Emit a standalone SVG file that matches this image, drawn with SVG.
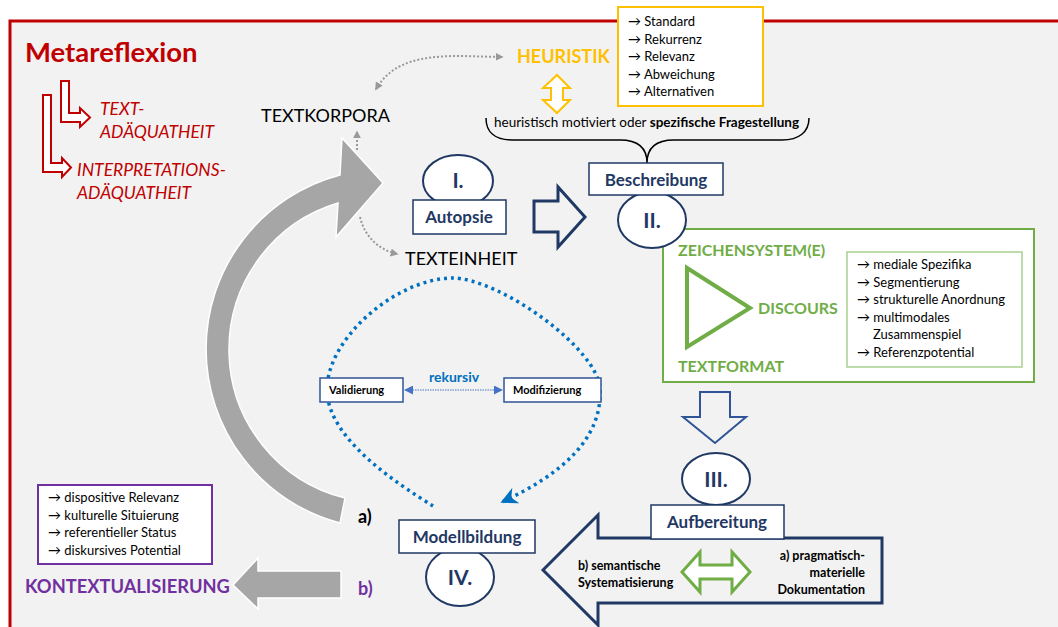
<svg xmlns="http://www.w3.org/2000/svg" width="1058" height="627" viewBox="0 0 1058 627">
<style>
text{font-family:Lato,"Open Sans","Liberation Sans",sans-serif}
.b{font-weight:bold}
.navy{fill:#1f3864}
.nbox{fill:#fff;stroke:#1f3864;stroke-width:1.5}
.ell{fill:#fff;stroke:#1f3864;stroke-width:2}
.num{font-size:21px;font-weight:bold;fill:#1f3864;text-anchor:middle}
.lbl{font-size:17px;font-weight:bold;fill:#1f3864;text-anchor:middle}
.red{fill:#c00000;font-style:italic;font-size:17.5px}
.lst{font-size:13px;fill:#000}
.grn{fill:#70ad47;font-weight:bold;font-size:16px}
.gdot{fill:none;stroke:#999;stroke-width:2;stroke-dasharray:2 2}
.gray{fill:#a6a6a6;stroke:#fff;stroke-width:1.5}
</style>
<defs>
<marker id="ag" viewBox="0 0 10 10" refX="8" refY="5" markerWidth="4" markerHeight="4" orient="auto-start-reverse"><path d="M0,0 L10,5 L0,10 z" fill="#999"/></marker>
<marker id="ab" viewBox="0 0 10 10" refX="9" refY="5" markerUnits="userSpaceOnUse" markerWidth="17" markerHeight="17" orient="auto"><path d="M0,0 L10,5 L0,10 L3,5 z" fill="#0070c0"/></marker>
<marker id="ar" viewBox="0 0 10 10" refX="9" refY="5" markerUnits="userSpaceOnUse" markerWidth="9" markerHeight="9" orient="auto-start-reverse"><path d="M0,0 L10,5 L0,10 z" fill="#4472c4"/></marker>
</defs>
<rect x="0" y="0" width="1058" height="627" fill="#fff"/>
<rect x="10" y="21" width="1060" height="620" fill="#f2f2f2" stroke="#c00000" stroke-width="3"/>

<g id="metareflexion">
<text x="25" y="62" class="b" font-size="27.5" fill="#c00000">Metareflexion</text>
<polygon points="61,81 69,81 69,113 80,113 80,108 90,117.5 80,127 80,122 61,122" fill="#fff" stroke="#c00000" stroke-width="2"/>
<polygon points="43,95 51,95 51,163 62,163 62,158 71,167.5 62,177 62,172 43,172" fill="#fff" stroke="#c00000" stroke-width="2"/>
<text x="100" y="115" class="red">TEXT-</text>
<text x="100" y="138" class="red">ADÄQUATHEIT</text>
<text x="77" y="176" class="red">INTERPRETATIONS-</text>
<text x="77" y="199" class="red">ADÄQUATHEIT</text>
</g>

<g id="zyklus">
<path class="gray" d="M342,138 L383,183 L336,237 L338,203 A153,153 0 0 0 345,498 L340,523 A180,180 0 0 1 340,175 Z"/>
</g>

<g id="textkorpora"><text x="261" y="122" font-size="18" fill="#000">TEXTKORPORA</text></g>
<g id="texteinheit"><text x="405" y="265" font-size="18" fill="#000">TEXTEINHEIT</text></g>

<g id="heuristik">
<text x="517" y="63" class="b" font-size="18" fill="#ffc000">HEURISTIK</text>
<rect x="618" y="7" width="145" height="99" fill="#fff" stroke="#ffc000" stroke-width="2"/>
<text class="lst"><tspan x="628" y="26">→ Standard</tspan><tspan x="628" y="43.5">→ Rekurrenz</tspan><tspan x="628" y="61">→ Relevanz</tspan><tspan x="628" y="78.5">→ Abweichung</tspan><tspan x="628" y="96">→ Alternativen</tspan></text>
<polygon points="557,75 570,88 563,88 563,100 570,100 557,113 543,100 551,100 551,88 543,88" fill="#fff" stroke="#ffc000" stroke-width="2"/>
</g>

<g id="fragestellung">
<path d="M486,118 C486,132 495,140 512,140 L620,140 C638,140 647,148 647,163 C647,148 656,140 674,140 L782,140 C799,140 809,132 809,118" fill="none" stroke="#000" stroke-width="1.5"/>
<text x="494" y="127" font-size="13.5" fill="#000">heuristisch motiviert oder <tspan class="b">spezifische Fragestellung</tspan></text>
</g>

<g id="autopsie">
<ellipse cx="458" cy="181" rx="35" ry="26" class="ell"/>
<text x="458" y="188" class="num">I.</text>
<rect x="413" y="200" width="93" height="34" class="nbox"/>
<text x="459" y="223" class="lbl">Autopsie</text>
</g>

<g id="zeichensystem">
<rect x="663" y="229" width="371" height="153" fill="#fff" stroke="#70ad47" stroke-width="2"/>
<text x="678" y="256" class="grn">ZEICHENSYSTEM(E)</text>
<polygon points="687,268 687,347 750,308" fill="none" stroke="#70ad47" stroke-width="4"/>
<text x="758" y="314" class="grn">DISCOURS</text>
<text x="678" y="372" class="grn">TEXTFORMAT</text>
<rect x="847" y="252" width="175" height="115" fill="#fff" stroke="#a9d18e" stroke-width="1.5"/>
<text class="lst"><tspan x="857" y="269">→ mediale Spezifika</tspan><tspan x="857" y="286.5">→ Segmentierung</tspan><tspan x="857" y="304">→ strukturelle Anordnung</tspan><tspan x="857" y="321.5">→ multimodales</tspan><tspan x="873" y="339">Zusammenspiel</tspan><tspan x="857" y="356.5">→ Referenzpotential</tspan></text>
</g>

<g id="beschreibung">
<ellipse cx="652" cy="220" rx="34" ry="28" class="ell"/>
<text x="652" y="228" class="num">II.</text>
<rect x="589" y="163" width="134" height="32" class="nbox"/>
<text x="656" y="186" class="lbl">Beschreibung</text>
</g>

<g id="connectors">
<path class="gdot" d="M376,89 C392,62 420,56 460,56 L502,57" marker-start="url(#ag)" marker-end="url(#ag)"/>
<path class="gdot" d="M357,150 L357,132" marker-end="url(#ag)"/>
<path class="gdot" d="M360,217 C365,238 380,250 397,254" marker-end="url(#ag)"/>
<polygon points="534,201 558,201 558,187 585,217 558,247 558,232 534,232" fill="#f2f2f2" stroke="#1f3864" stroke-width="3"/>
<polygon points="700,392 730,392 730,417 746,417 715,443 683,417 700,417" fill="#f2f2f2" stroke="#2f5597" stroke-width="2"/>
<polygon class="gray" points="233,585 258,558 258,571 341,571 341,598 258,598 258,609"/>
<path d="M433,506 C395,482 330,440 327,392 C325,340 395,279 452,278 C500,278 600,350 600,390 C602,440 560,475 502,502" fill="none" stroke="#0070c0" stroke-width="3.5" stroke-dasharray="3 4" marker-end="url(#ab)"/>
<line x1="405" y1="390" x2="502" y2="390" stroke="#4472c4" stroke-width="1" stroke-dasharray="1.5 1" marker-start="url(#ar)" marker-end="url(#ar)"/>
</g>

<g id="rekursiv">
<text x="454" y="382" class="b" font-size="14" fill="#0070c0" text-anchor="middle">rekursiv</text>
<rect x="320" y="378" width="83" height="24" fill="#fff" stroke="#2f5597" stroke-width="1.5"/>
<text x="329" y="394" class="b" font-size="11" fill="#000">Validierung</text>
<rect x="504" y="378" width="97" height="24" fill="#fff" stroke="#2f5597" stroke-width="1.5"/>
<text x="513" y="394" class="b" font-size="11" fill="#000">Modifizierung</text>
</g>

<g id="kontextualisierung">
<rect x="38" y="485" width="174" height="79" fill="#fff" stroke="#7030a0" stroke-width="2"/>
<text class="lst"><tspan x="48" y="502">→ dispositive Relevanz</tspan><tspan x="48" y="519.5">→ kulturelle Situierung</tspan><tspan x="48" y="537">→ referentieller Status</tspan><tspan x="48" y="554.5">→ diskursives Potential</tspan></text>
<text x="25" y="593" class="b" font-size="18.3" fill="#7030a0">KONTEXTUALISIERUNG</text>
<text x="358" y="523" class="b" font-size="18" fill="#000">a)</text>
<text x="358" y="595" class="b" font-size="18" fill="#7030a0">b)</text>
</g>

<g id="modellbildung">
<ellipse cx="460" cy="577" rx="34" ry="29" class="ell"/>
<text x="460" y="585" class="num">IV.</text>
<rect x="399" y="520" width="136" height="33" class="nbox"/>
<text x="467" y="543" class="lbl">Modellbildung</text>
</g>

<g id="aufbereitung">
<polygon points="543,570 598,515 598,538 882,538 882,603 598,603 598,625" fill="#f2f2f2" stroke="#1f3864" stroke-width="3"/>
<ellipse cx="716" cy="479" rx="34" ry="26" class="ell"/>
<text x="716" y="487" class="num">III.</text>
<rect x="651" y="505" width="133" height="34" fill="#fff" stroke="#1f3864" stroke-width="1.5"/>
<text x="717" y="528" class="lbl">Aufbereitung</text>
<text class="b" font-size="12.5" fill="#000"><tspan x="578" y="570">b) semantische</tspan><tspan x="578" y="587">Systematisierung</tspan></text>
<text class="b" font-size="12.5" fill="#000" text-anchor="end"><tspan x="865" y="560">a) pragmatisch-</tspan><tspan x="865" y="577">materielle</tspan><tspan x="865" y="594">Dokumentation</tspan></text>
<polygon points="682,572 700,552 700,565 732,565 732,552 750,572 732,592 732,579 700,579 700,592" fill="#fff" stroke="#70ad47" stroke-width="3"/>
</g>
</svg>
